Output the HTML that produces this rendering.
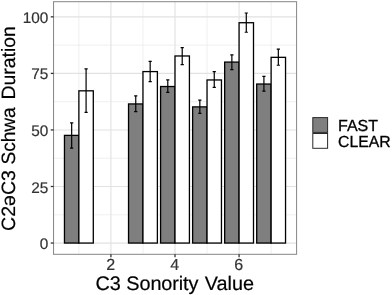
<!DOCTYPE html>
<html><head><meta charset="utf-8"><title>chart</title>
<style>html,body{margin:0;padding:0;background:#fff;}svg{display:block;filter:grayscale(1);}text{font-family:"Liberation Sans",sans-serif;text-rendering:geometricPrecision;}.t{filter:blur(0.3px);}</style></head>
<body>
<svg width="392" height="295" viewBox="0 0 392 295">
<rect x="0" y="0" width="392" height="295" fill="#ffffff"/>
<g stroke="#eaeaea" stroke-width="0.7" fill="none">
<line x1="53.55" x2="296.6" y1="214.78" y2="214.78"/>
<line x1="53.55" x2="296.6" y1="158.23" y2="158.23"/>
<line x1="53.55" x2="296.6" y1="101.68" y2="101.68"/>
<line x1="53.55" x2="296.6" y1="45.12" y2="45.12"/>
<line y1="1.7" y2="254.3" x1="78.88" x2="78.88"/>
<line y1="1.7" y2="254.3" x1="142.96" x2="142.96"/>
<line y1="1.7" y2="254.3" x1="207.04" x2="207.04"/>
<line y1="1.7" y2="254.3" x1="271.12" x2="271.12"/>
</g>
<g stroke="#e2e2e2" stroke-width="1.15" fill="none">
<line x1="53.55" x2="296.6" y1="243.05" y2="243.05"/>
<line x1="53.55" x2="296.6" y1="186.50" y2="186.50"/>
<line x1="53.55" x2="296.6" y1="129.95" y2="129.95"/>
<line x1="53.55" x2="296.6" y1="73.40" y2="73.40"/>
<line x1="53.55" x2="296.6" y1="16.85" y2="16.85"/>
<line y1="1.7" y2="254.3" x1="110.92" x2="110.92"/>
<line y1="1.7" y2="254.3" x1="175.00" x2="175.00"/>
<line y1="1.7" y2="254.3" x1="239.08" x2="239.08"/>
</g>
<g stroke="#000000" stroke-width="1.3">
<rect x="64.46" y="135.38" width="14.42" height="107.67" fill="#7f7f7f"/>
<rect x="78.88" y="90.82" width="14.42" height="152.23" fill="#ffffff"/>
<rect x="128.54" y="103.94" width="14.42" height="139.11" fill="#7f7f7f"/>
<rect x="142.96" y="71.59" width="14.42" height="171.46" fill="#ffffff"/>
<rect x="160.58" y="86.52" width="14.42" height="156.53" fill="#7f7f7f"/>
<rect x="175.00" y="55.98" width="14.42" height="187.07" fill="#ffffff"/>
<rect x="192.62" y="106.88" width="14.42" height="136.17" fill="#7f7f7f"/>
<rect x="207.04" y="79.96" width="14.42" height="163.09" fill="#ffffff"/>
<rect x="224.66" y="62.09" width="14.42" height="180.96" fill="#7f7f7f"/>
<rect x="239.08" y="22.73" width="14.42" height="220.32" fill="#ffffff"/>
<rect x="256.70" y="84.03" width="14.42" height="159.02" fill="#7f7f7f"/>
<rect x="271.12" y="57.34" width="14.42" height="185.71" fill="#ffffff"/>
</g>
<g stroke="#000000" stroke-width="1.2" fill="none">
<path d="M70.07 122.94H73.27M71.67 122.94V148.05M70.07 148.05H73.27"/>
<path d="M84.49 68.88H87.69M86.09 68.88V112.31M84.49 112.31H87.69"/>
<path d="M134.15 95.79H137.35M135.75 95.79V111.63M134.15 111.63H137.35"/>
<path d="M148.57 61.41H151.77M150.17 61.41V81.54M148.57 81.54H151.77"/>
<path d="M166.19 79.96H169.39M167.79 79.96V92.40M166.19 92.40H169.39"/>
<path d="M180.61 47.61H183.81M182.21 47.61V64.58M180.61 64.58H183.81"/>
<path d="M198.23 100.09H201.43M199.83 100.09V113.44M198.23 113.44H201.43"/>
<path d="M212.65 71.59H215.85M214.25 71.59V87.42M212.65 87.42H215.85"/>
<path d="M230.27 54.85H233.47M231.87 54.85V69.55M230.27 69.55H233.47"/>
<path d="M244.69 13.00H247.89M246.29 13.00V32.23M244.69 32.23H247.89"/>
<path d="M262.31 76.34H265.51M263.91 76.34V91.04M262.31 91.04H265.51"/>
<path d="M276.73 49.20H279.93M278.33 49.20V65.26M276.73 65.26H279.93"/>
</g>
<rect x="53.55" y="1.7" width="243.05" height="252.60" fill="none" stroke="#858585" stroke-width="1.0"/>
<g stroke="#333333" stroke-width="1.3">
<line x1="50.75" x2="53.55" y1="243.05" y2="243.05"/>
<line x1="50.75" x2="53.55" y1="186.50" y2="186.50"/>
<line x1="50.75" x2="53.55" y1="129.95" y2="129.95"/>
<line x1="50.75" x2="53.55" y1="73.40" y2="73.40"/>
<line x1="50.75" x2="53.55" y1="16.85" y2="16.85"/>
<line y1="254.3" y2="257.30" x1="110.92" x2="110.92"/>
<line y1="254.3" y2="257.30" x1="175.00" x2="175.00"/>
<line y1="254.3" y2="257.30" x1="239.08" x2="239.08"/>
</g>
<g class="t">
<text transform="translate(48.30,249.05) scale(0.998,1)" font-size="15.4px" text-anchor="end" fill="#333333" stroke="#333333" stroke-width="0.2">0</text>
<text transform="translate(48.30,192.50) scale(0.998,1)" font-size="15.4px" text-anchor="end" fill="#333333" stroke="#333333" stroke-width="0.2">25</text>
<text transform="translate(48.30,135.95) scale(0.998,1)" font-size="15.4px" text-anchor="end" fill="#333333" stroke="#333333" stroke-width="0.2">50</text>
<text transform="translate(48.30,79.40) scale(0.998,1)" font-size="15.4px" text-anchor="end" fill="#333333" stroke="#333333" stroke-width="0.2">75</text>
<text transform="translate(48.30,22.85) scale(0.998,1)" font-size="15.4px" text-anchor="end" fill="#333333" stroke="#333333" stroke-width="0.2">100</text>
<text transform="translate(110.62,270.30) scale(1.0,1)" font-size="16.0px" text-anchor="middle" fill="#333333" stroke="#333333" stroke-width="0.2">2</text>
<text transform="translate(174.70,270.30) scale(1.0,1)" font-size="16.0px" text-anchor="middle" fill="#333333" stroke="#333333" stroke-width="0.2">4</text>
<text transform="translate(238.78,270.30) scale(1.0,1)" font-size="16.0px" text-anchor="middle" fill="#333333" stroke="#333333" stroke-width="0.2">6</text>
<text transform="translate(174.70,289.60) scale(1.013,1)" font-size="19.6px" text-anchor="middle" fill="#000" stroke="#000" stroke-width="0.2">C3 <tspan letter-spacing="-0.1">Sonority</tspan><tspan dx="0.8"> Value</tspan></text>
<text transform="translate(15.2,230.9) rotate(-90) scale(1.012,1)" font-size="19.3px" text-anchor="start" fill="#000" stroke="#000" stroke-width="0.2">C2əC3</text>
<text transform="translate(15.2,164.6) rotate(-90) scale(0.991,1)" font-size="19.3px" text-anchor="start" fill="#000" stroke="#000" stroke-width="0.2">Schwa</text>
<text transform="translate(15.2,99.6) rotate(-90) scale(1.007,1)" font-size="19.3px" text-anchor="start" fill="#000" stroke="#000" stroke-width="0.2">Duration</text>
</g>
<rect x="312.8" y="117.6" width="14.8" height="14.8" fill="#7f7f7f" stroke="#2a2a2a" stroke-width="1.0"/>
<rect x="312.8" y="133.5" width="14.8" height="14.8" fill="#fff" stroke="#2a2a2a" stroke-width="1.0"/>
<g class="t">
<text transform="translate(338.00,130.90) scale(1.0,1)" font-size="16.0px" text-anchor="start" fill="#000" stroke="#000" stroke-width="0.3">FAST</text>
<text transform="translate(338.00,146.75) scale(0.985,1)" font-size="16.0px" text-anchor="start" fill="#000" stroke="#000" stroke-width="0.3">CLEAR</text>
</g>
</svg>
</body></html>
